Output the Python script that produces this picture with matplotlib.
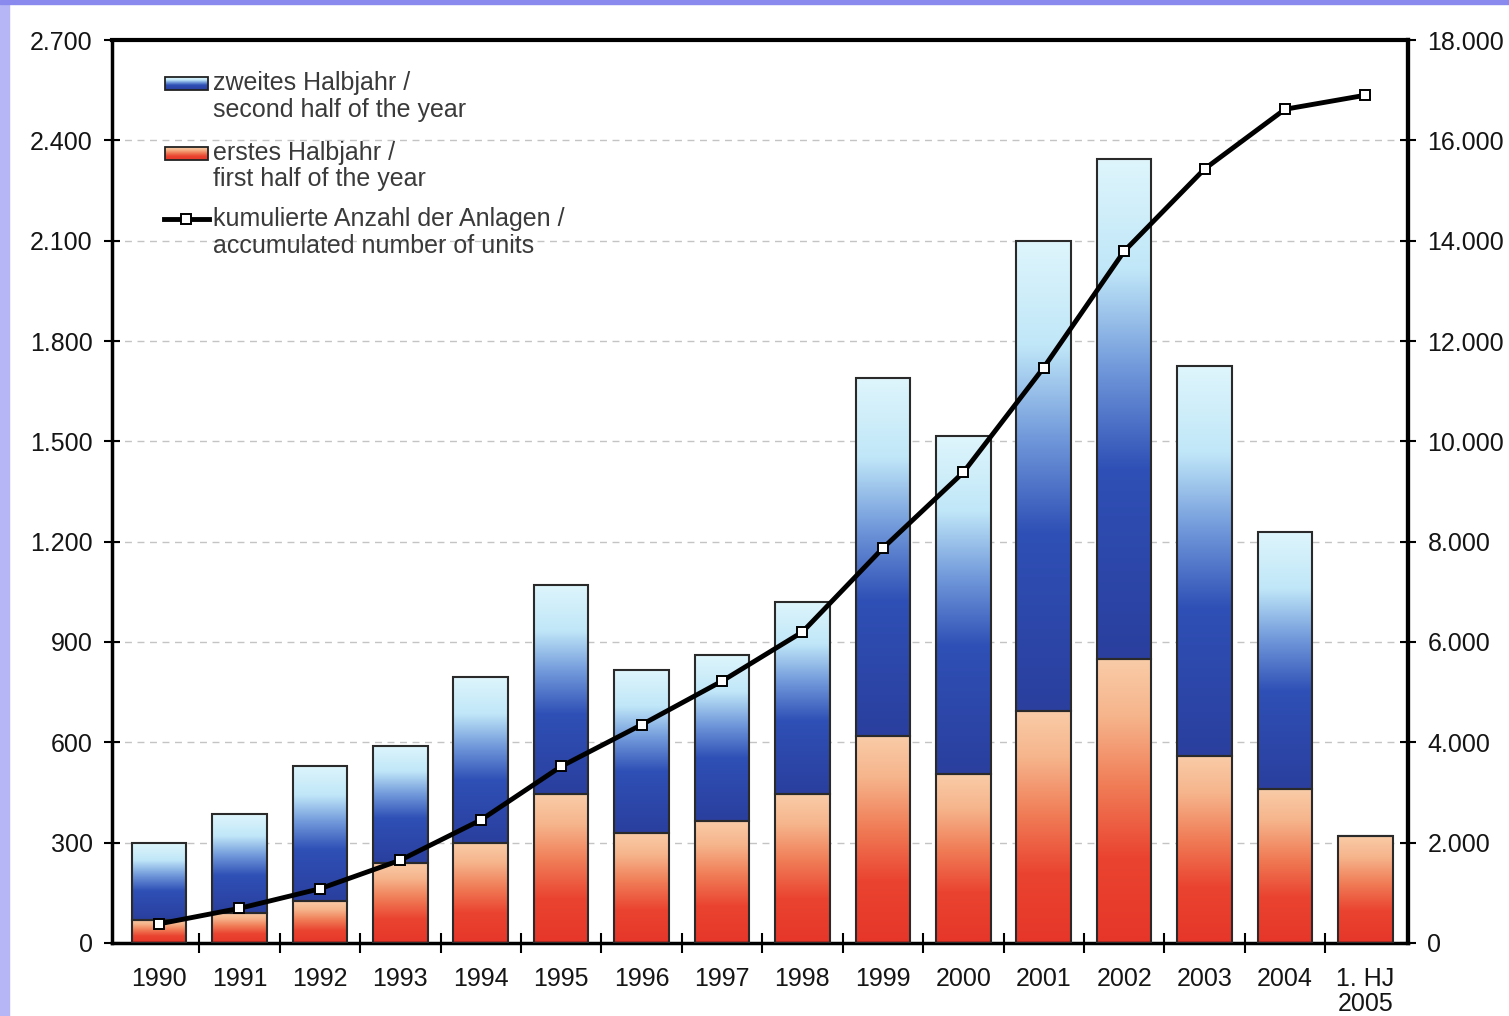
import numpy as np
import matplotlib.pyplot as plt
from matplotlib.colors import LinearSegmentedColormap
from matplotlib.patches import Rectangle
from matplotlib.ticker import FuncFormatter, MultipleLocator

# Wind turbines installed per half-year (left axis) and cumulative total (right axis)
years = ['1990', '1991', '1992', '1993', '1994', '1995', '1996', '1997',
         '1998', '1999', '2000', '2001', '2002', '2003', '2004', '1. HJ\n2005']
first_half = [70, 90, 125, 240, 300, 445, 330, 365, 445, 620, 505, 695, 850, 560, 460, 320]
second_half = [230, 295, 405, 350, 495, 625, 485, 495, 575, 1070, 1010, 1405, 1495, 1165, 770, 0]
cumulative = [380, 690, 1080, 1650, 2450, 3520, 4350, 5220, 6200, 7870, 9380,
              11470, 13790, 15430, 16620, 16900]

plt.rcParams['font.family'] = ['Liberation Sans', 'DejaVu Sans']

blue_cmap = LinearSegmentedColormap.from_list(
    'second', [(0, '#2a3f9e'), (0.38, '#2f50b6'), (0.58, '#7098da'),
               (0.78, '#c0e7f8'), (1, '#def5fc')])
red_cmap = LinearSegmentedColormap.from_list(
    'first', [(0, '#e6362a'), (0.3, '#ea4430'), (0.55, '#f07c56'),
              (0.8, '#f6b58c'), (1, '#f9cca8')])


def de_num(v, pos):
    return f'{v:,.0f}'.replace(',', '.')


fig = plt.figure(figsize=(15.09, 10.16), dpi=100)
fig.patches.append(Rectangle((0, 0), 9 / 1509, 1, transform=fig.transFigure,
                             color='#b6b6f6', zorder=0))
fig.patches.append(Rectangle((0, 1 - 4 / 1016), 1, 4 / 1016, transform=fig.transFigure,
                             color='#8a8aee', zorder=0))

ax = fig.add_axes([0.0742, 0.0719, 0.8589, 0.8887])
ax2 = ax.twinx()

x = np.arange(len(years))
width = 0.68
grad = np.linspace(0, 1, 256).reshape(-1, 1)

for xi, lo, hi in zip(x, first_half, second_half):
    for y0, y1, cmap in [(0, lo, red_cmap), (lo, lo + hi, blue_cmap)]:
        if y1 <= y0:
            continue
        ax.imshow(grad, cmap=cmap, origin='lower', aspect='auto', interpolation='bilinear',
                  extent=(xi - width / 2, xi + width / 2, y0, y1), zorder=2)

ax.bar(x, first_half, width, facecolor='none', edgecolor='#2a2a2a', lw=1.5, zorder=3)
ax.bar(x, second_half, width, bottom=first_half, facecolor='none',
       edgecolor='#2a2a2a', lw=1.5, zorder=3)

ax.set_xlim(-0.585, 15.53)
ax.set_ylim(0, 2700)
ax.yaxis.set_major_locator(MultipleLocator(300))
ax.yaxis.set_major_formatter(FuncFormatter(de_num))
ax.yaxis.grid(True, ls=(0, (5, 4)), color='#c4c4c4', lw=1)
ax.set_axisbelow(True)

ax.set_xticks(x)
ax.set_xticklabels(years)
for lbl in ax.get_xticklabels():
    lbl.set_linespacing(1.05)
ax.set_xticks(x[:-1] + 0.5, minor=True)
ax.tick_params(axis='x', which='major', length=0, pad=17, labelsize=18, labelcolor='#151515')
ax.tick_params(axis='x', which='minor', direction='inout', length=14, width=1.5)
ax.tick_params(axis='y', direction='inout', length=12, width=1.5, pad=8,
               labelsize=18, labelcolor='#151515')

for side, lw in [('left', 2.5), ('bottom', 2.5), ('top', 3), ('right', 3)]:
    ax.spines[side].set_linewidth(lw)

ax2.plot(x, cumulative, color='black', lw=3.5, marker='s', ms=7.5,
         mfc='white', mec='black', mew=1.4, zorder=5)
ax2.set_ylim(0, 18000)
ax2.yaxis.set_major_locator(MultipleLocator(2000))
ax2.yaxis.set_major_formatter(FuncFormatter(de_num))
ax2.tick_params(axis='y', direction='inout', length=12, width=1.5, pad=8,
                labelsize=18, labelcolor='#151515')
for side in ['left', 'bottom', 'top']:
    ax2.spines[side].set_visible(False)
ax2.spines['right'].set_linewidth(3)
ax.set_xlim(-0.585, 15.53)

# legend drawn in figure pixel space
lax = fig.add_axes([0, 0, 1, 1], zorder=6)
lax.axis('off')
sw_grad = np.linspace(0, 1, 64).reshape(-1, 1)
for (top, bot), cmap in [((77, 90), blue_cmap), ((147, 160), red_cmap)]:
    lax.imshow(sw_grad, cmap=cmap, origin='lower', aspect='auto',
               extent=(165, 208, bot, top))
    lax.add_patch(Rectangle((165, top), 43, bot - top, fill=False, ec='#222222', lw=1.3))
lax.plot([164, 209], [219, 219], color='black', lw=3.5)
lax.plot([186], [219], 's', ms=7.5, mfc='white', mec='black', mew=1.4)
lax.set_xlim(0, 1509)
lax.set_ylim(1016, 0)

legend_lines = [(83, 'zweites Halbjahr /'), (110, 'second half of the year'),
                (153, 'erstes Halbjahr /'), (179, 'first half of the year'),
                (219, 'kumulierte Anzahl der Anlagen /'), (246, 'accumulated number of units')]
for yy, txt in legend_lines:
    lax.text(213, yy, txt, fontsize=18, color='#3a3a3a', va='center', ha='left')

fig.savefig('out.png', dpi=100, facecolor='white')
